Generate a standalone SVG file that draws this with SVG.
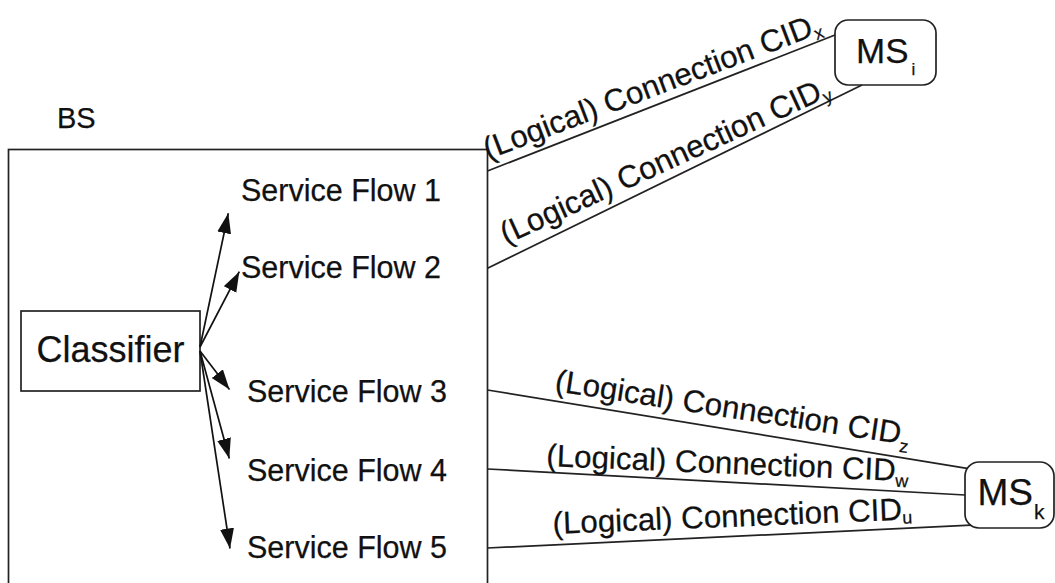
<svg xmlns="http://www.w3.org/2000/svg" width="1055" height="583" viewBox="0 0 1055 583">
<style>
  text { font-family: "Liberation Sans", Arial, Helvetica, sans-serif; fill: #111; stroke: #111; stroke-width: 0.25; }
  .box { fill: none; stroke: #222; stroke-width: 1.7; }
  .conn { stroke: #222; stroke-width: 1.7; fill: none; }
  .arr { stroke: #111; stroke-width: 1.7; fill: none; marker-end: url(#ah); }
  .lbl { font-size: 31.3px; }
  .sf { font-size: 30.5px; }
  .sub { font-size: 18px; }
</style>
<defs>
  <marker id="ah" markerUnits="userSpaceOnUse" markerWidth="21" markerHeight="15" refX="20" refY="7" orient="auto">
    <path d="M0,0 L20,7 L0,14 z" fill="#111"/>
  </marker>
</defs>
<rect width="1055" height="583" fill="#fff"/>

<g id="bs">
  <rect class="box" x="8.5" y="149.5" width="479" height="460"/>
  <text x="57" y="128.3" font-size="29">BS</text>
</g>

<g id="classifier">
  <rect class="box" x="21" y="311" width="179" height="80"/>
  <text x="36.5" y="361.7" font-size="36">Classifier</text>
</g>

<g id="sf1"><text class="sf" x="241" y="201">Service Flow 1</text></g>
<g id="sf2"><text class="sf" x="241" y="277.7">Service Flow 2</text></g>
<g id="sf3"><text class="sf" x="247" y="401.7">Service Flow 3</text></g>
<g id="sf4"><text class="sf" x="247" y="481">Service Flow 4</text></g>
<g id="sf5"><text class="sf" x="247" y="557.7">Service Flow 5</text></g>

<g id="msi">
  <rect class="box" x="835" y="20" width="101" height="65" rx="13"/>
  <text x="856" y="62.7" font-size="35">MS<tspan font-size="17" dx="3" dy="12">i</tspan></text>
</g>

<g id="msk">
  <rect class="box" x="965" y="462" width="89" height="66" rx="14"/>
  <text x="977.5" y="505" font-size="37">MS<tspan font-size="21" dx="1" dy="13.5">k</tspan></text>
</g>

<g id="connectors">
  <line class="arr" x1="200" y1="347" x2="228.3" y2="213.3"/>
  <line class="arr" x1="200" y1="347" x2="239.3" y2="271.7"/>
  <line class="arr" x1="200" y1="351" x2="229.5" y2="389.5"/>
  <line class="arr" x1="200" y1="351" x2="229.3" y2="458.5"/>
  <line class="arr" x1="200" y1="351" x2="230" y2="548.5"/>

  <line class="conn" x1="487.5" y1="171" x2="835" y2="35"/>
  <line class="conn" x1="487.5" y1="268.3" x2="862" y2="85"/>
  <line class="conn" x1="487.5" y1="390" x2="967" y2="468.3"/>
  <line class="conn" x1="487.5" y1="469" x2="965" y2="495"/>
  <line class="conn" x1="487.5" y1="548" x2="971" y2="525.2"/>

  <text class="lbl" transform="translate(488,159.7) rotate(-20.8)">(Logical) Connection CID<tspan class="sub" dy="5">x</tspan></text>
  <text class="lbl" transform="translate(506,244.6) rotate(-24.6)">(Logical) Connection CID<tspan class="sub" dy="5">y</tspan></text>
  <text class="lbl" transform="translate(554,390.9) rotate(8.7)">(Logical) Connection CID<tspan class="sub" dy="8">z</tspan></text>
  <text class="lbl" transform="translate(546,466) rotate(2.4)">(Logical) Connection CID<tspan class="sub" dy="6">w</tspan></text>
  <text class="lbl" transform="translate(553,533.9) rotate(-2.3)">(Logical) Connection CID<tspan class="sub" dy="4">u</tspan></text>
</g>
</svg>
